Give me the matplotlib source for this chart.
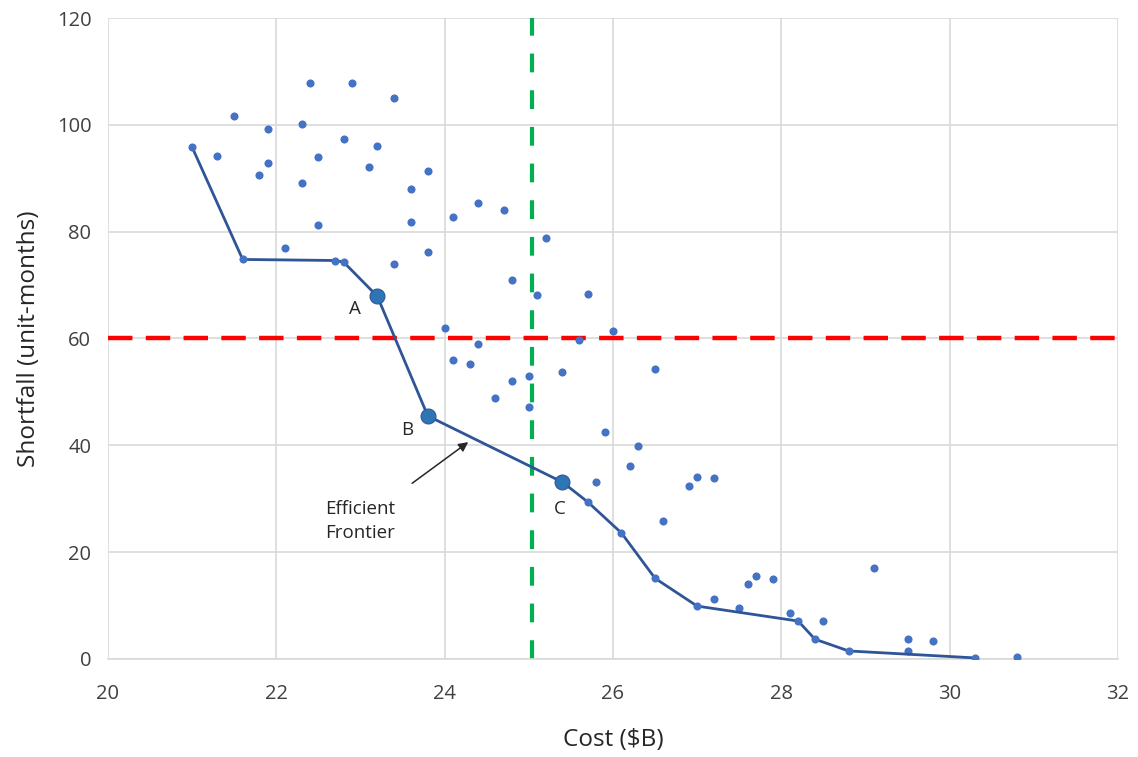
import matplotlib
matplotlib.use("Agg")
import matplotlib.pyplot as plt

# efficient frontier (cost $B, shortfall unit-months)
frontierCost = [21.0, 21.6, 22.7, 22.8, 23.2, 23.8, 25.4, 25.7, 26.1, 26.5, 27.0, 28.2, 28.4, 28.8, 30.3]
frontierShortfall = [95.8, 74.8, 74.6, 74.3, 67.9, 45.5, 33.1, 29.4, 23.6, 15.1, 9.9, 7.1, 3.7, 1.5, 0.2]

# the other portfolios
otherCost = [22.4, 22.9, 23.4, 21.5, 21.9, 22.3, 22.8, 23.2, 21.3, 21.9, 21.8, 22.5, 23.1, 23.8,
             22.3, 23.6, 23.6, 22.5, 22.1, 23.8, 23.4, 24.0, 24.1, 24.4, 24.7, 25.2, 24.8, 25.1,
             25.7, 26.0, 24.4, 25.6, 24.1, 24.3, 25.4, 26.5, 24.8, 25.0, 24.6, 25.0, 25.9, 26.3,
             26.2, 25.8, 26.9, 27.0, 27.2, 26.6, 27.2, 27.5, 27.6, 27.7, 27.9, 28.1, 28.5, 29.1,
             29.5, 29.5, 29.8, 30.8]
otherShortfall = [107.9, 107.9, 105.0, 101.6, 99.3, 100.1, 97.3, 96.0, 94.1, 92.8, 90.7, 93.9, 92.2, 91.3,
                  89.2, 87.9, 81.8, 81.2, 76.9, 76.2, 73.9, 61.9, 82.7, 85.3, 84.0, 78.8, 70.9, 68.1,
                  68.3, 61.4, 58.9, 59.7, 55.9, 55.3, 53.7, 54.2, 52.0, 52.9, 48.9, 47.2, 42.4, 39.8,
                  36.1, 33.1, 32.3, 34.0, 33.9, 25.8, 11.3, 9.5, 14.0, 15.6, 15.0, 8.6, 7.1, 17.0,
                  3.7, 1.5, 3.4, 0.4]

# highlighted portfolios
pointLabels = ["A", "B", "C"]
pointCost = [23.2, 23.8, 25.4]
pointShortfall = [67.9, 45.5, 33.1]

shortfallLimit = 60
budgetLimit = 25.04

plt.rcParams['font.family'] = ['Open Sans', 'DejaVu Sans']

fig = plt.figure(figsize=(11.38, 7.57), dpi=100)
ax = fig.add_axes([0.0949, 0.1295, 0.8875, 0.8467])

ax.scatter(otherCost, otherShortfall, s=34, color='#4472C4', zorder=3, linewidths=0)
ax.plot(frontierCost, frontierShortfall, color='#2F5597', linewidth=2, zorder=4)
ax.scatter(frontierCost, frontierShortfall, s=34, color='#4472C4', zorder=5, linewidths=0)
ax.scatter(pointCost, pointShortfall, s=115, color='#2E75B6', edgecolor='#2F5597', linewidths=0.8, zorder=6)

offsets = {"A": (-0.27, -2.3), "B": (-0.25, -2.6), "C": (-0.03, -5.0)}
for lab, c, s in zip(pointLabels, pointCost, pointShortfall):
    dx, dy = offsets[lab]
    ax.text(c + dx, s + dy, lab, fontsize=13.5, color='#262626', ha='center', va='center', zorder=7)

ax.axhline(shortfallLimit, color='#FF0000', linewidth=3.2, dashes=(5.5, 3), zorder=2)
ax.axvline(budgetLimit, color='#00B050', linewidth=3, dashes=(4.5, 4.3), zorder=2)

ax.annotate("Efficient\nFrontier", xy=(24.28, 40.6), xytext=(23.0, 25.8),
            fontsize=13.5, color='#262626', ha='center', va='center', linespacing=1.45,
            arrowprops=dict(arrowstyle='-|>', color='#262626', lw=1.1,
                            shrinkA=17, shrinkB=0, mutation_scale=14))

ax.set_xlim(20, 32)
ax.set_ylim(0, 120)
ax.set_xticks(range(20, 33, 2))
ax.set_yticks(range(0, 121, 20))
ax.grid(True, color='#D9D9D9', linewidth=1.2, zorder=0)
ax.set_axisbelow(True)
for side in ['top', 'right', 'left']:
    ax.spines[side].set_visible(False)
ax.spines['bottom'].set_color('#D9D9D9')
ax.spines['bottom'].set_linewidth(1.2)
ax.tick_params(length=0, labelsize=14.5, colors='#404040')
ax.tick_params(axis='x', pad=18)
ax.tick_params(axis='y', pad=12)

ax.set_xlabel("Cost ($B)", fontsize=17.5, color='#262626', labelpad=17)
ax.set_ylabel("Shortfall (unit-months)", fontsize=17.5, color='#262626', labelpad=11)

fig.savefig("out.png", dpi=100)
